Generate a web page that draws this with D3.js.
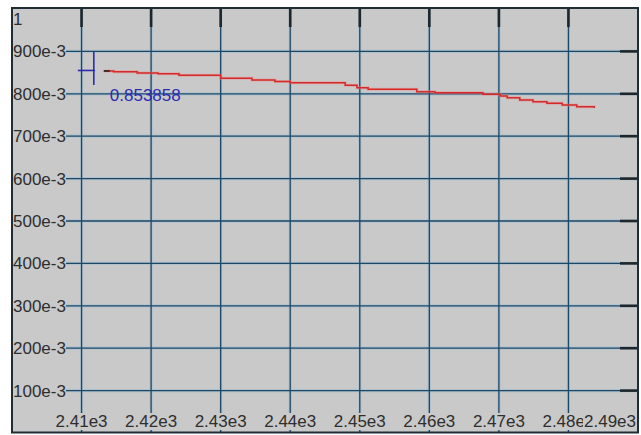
<!DOCTYPE html>
<html>
<head>
<meta charset="utf-8">
<script src="https://cdn.jsdelivr.net/npm/d3@7"></script>
<style>
  html, body { margin: 0; padding: 0; background: #ffffff; }
  svg { display: block; }
  text { font-family: "Liberation Sans", Arial, sans-serif; }
</style>
</head>
<body>
<svg id="chart" width="641" height="435"></svg>
<script>
// Frequency sweep (x) and measured response (y), stepped trace
const freq = [2413.2, 2414.6, 2418.0, 2421.0, 2424.0, 2430.0, 2434.5, 2437.8, 2440.0,
              2447.9, 2449.6, 2451.2, 2458.2, 2460.8, 2467.7, 2470.2, 2471.2, 2473.0,
              2474.9, 2476.9, 2479.1, 2481.2, 2483.7];
const response = [0.853858, 0.8520, 0.8490, 0.8470, 0.8440, 0.8365, 0.8325, 0.8290, 0.8260,
                  0.8200, 0.8140, 0.8106, 0.8050, 0.8025, 0.7990, 0.7950, 0.7906, 0.7854,
                  0.7814, 0.7776, 0.7736, 0.7696, 0.7665];

const xTicks = [2410, 2420, 2430, 2440, 2450, 2460, 2470, 2480, 2490];
const xTickLabels = ["2.41e3", "2.42e3", "2.43e3", "2.44e3", "2.45e3", "2.46e3", "2.47e3", "2.48e3", "2.49e3"];
const yTicks = [0.1, 0.2, 0.3, 0.4, 0.5, 0.6, 0.7, 0.8, 0.9, 1];
const yTickLabels = ["100e-3", "200e-3", "300e-3", "400e-3", "500e-3", "600e-3", "700e-3", "800e-3", "900e-3", "1"];

const svg = d3.select("#chart");
const panel = { left: 12, top: 8, right: 638, bottom: 432.5 };

const x = d3.scaleLinear().domain([2400, 2490]).range([12, 638]);
const y = d3.scaleLinear().domain([0, 1]).range([433, 9]);

const panelFill = "#c9c9c9";
const gridDark = "#1d4766";
const gridHalo = "#a9c0cf";

svg.append("rect")
  .attr("x", panel.left).attr("y", panel.top)
  .attr("width", panel.right - panel.left).attr("height", panel.bottom - panel.top)
  .attr("fill", panelFill);

const grid = svg.append("g");
const innerX = xTicks.filter(v => v < 2490);
const innerY = yTicks.filter(v => v < 1);

// soft halo under each grid line, then the dark line on top
[[gridHalo, 3.2, 0.8], [gridDark, 1.3, 1]].forEach(([col, w, op]) => {
  grid.append("g").selectAll("line").data(innerX).join("line")
    .attr("x1", d => x(d)).attr("x2", d => x(d))
    .attr("y1", panel.top).attr("y2", panel.bottom)
    .attr("stroke", col).attr("stroke-width", w).attr("opacity", op);
  grid.append("g").selectAll("line").data(innerY).join("line")
    .attr("y1", d => y(d)).attr("y2", d => y(d))
    .attr("x1", panel.left).attr("x2", panel.right)
    .attr("stroke", col).attr("stroke-width", w).attr("opacity", op);
});

// tick marks along the top and right edges
svg.append("g").selectAll("line").data(innerX).join("line")
  .attr("x1", d => x(d)).attr("x2", d => x(d))
  .attr("y1", panel.top).attr("y2", panel.top + 19)
  .attr("stroke", "#1e262b").attr("stroke-width", 2.6);
svg.append("g").selectAll("line").data(innerY).join("line")
  .attr("y1", d => y(d)).attr("y2", d => y(d))
  .attr("x1", panel.right - 18).attr("x2", panel.right)
  .attr("stroke", "#1e262b").attr("stroke-width", 2.6);

// measured trace
const line = d3.line()
  .x((d, i) => x(freq[i]))
  .y(d => y(d))
  .curve(d3.curveStepAfter);

svg.append("path")
  .datum(response)
  .attr("d", line)
  .attr("fill", "none")
  .attr("stroke", "#f08080")
  .attr("stroke-width", 3)
  .attr("opacity", 0.45);
svg.append("path")
  .datum(response)
  .attr("d", line)
  .attr("fill", "none")
  .attr("stroke", "#d42a2a")
  .attr("stroke-width", 1.5);

// cursor at the start of the trace
const cx = x(freq[0]), cy = y(response[0]);
const cursor = svg.append("g").attr("stroke", "#2b2bb0").attr("stroke-width", 1.6);
cursor.append("line").attr("x1", cx - 26).attr("x2", cx - 9).attr("y1", cy - 0.5).attr("y2", cy - 0.5);
cursor.append("line").attr("x1", cx - 10).attr("x2", cx - 10).attr("y1", cy - 19).attr("y2", cy + 14);
svg.append("line")
  .attr("x1", cx).attr("x2", cx + 6).attr("y1", cy).attr("y2", cy)
  .attr("stroke", "#3a2a2a").attr("stroke-width", 1.8);
svg.append("text")
  .attr("x", cx + 6).attr("y", cy + 30)
  .attr("font-size", 17).attr("fill", "#2b2bb0")
  .text(d3.format(".6f")(response[0]));

// tick labels with panel-coloured backing
function label(g, txt, px, py, anchor) {
  const t = g.append("text")
    .attr("x", px).attr("y", py)
    .attr("font-size", 17).attr("fill", "#2e2e2e")
    .attr("text-anchor", anchor)
    .text(txt);
  const b = t.node().getBBox();
  g.insert("rect", () => t.node())
    .attr("x", b.x - 1).attr("y", b.y + 1)
    .attr("width", b.width + 1).attr("height", b.height - 2)
    .attr("fill", panelFill);
}

const yLab = svg.append("g");
yTicks.forEach((v, i) => {
  const py = v === 1 ? 25 : y(v) + 6;
  label(yLab.append("g"), yTickLabels[i], panel.left + 1, py, "start");
});

const xLab = svg.append("g");
xTicks.forEach((v, i) => {
  const last = v === 2490;
  label(xLab.append("g"), xTickLabels[i], last ? panel.right - 2 : x(v), 427, last ? "end" : "middle");
});

// panel border
svg.append("rect")
  .attr("x", panel.left).attr("y", panel.top)
  .attr("width", panel.right - panel.left).attr("height", panel.bottom - panel.top)
  .attr("fill", "none").attr("stroke", "#1f2d34").attr("stroke-width", 2);
</script>
</body>
</html>
